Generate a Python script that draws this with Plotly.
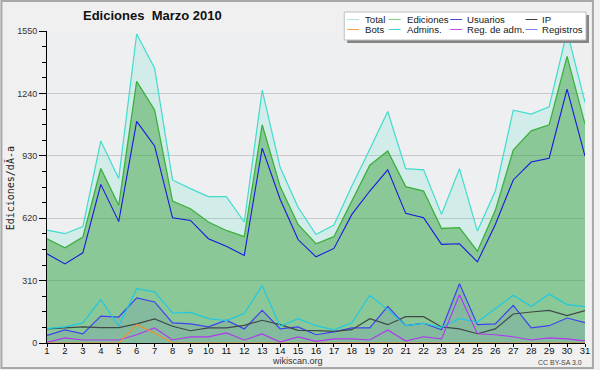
import plotly.graph_objects as go

days = list(range(1, 32))
total = [561, 543, 578, 1004, 817, 1535, 1365, 810, 767, 727, 727, 601, 1256, 873, 674, 539,
         586, 780, 963, 1150, 866, 860, 639, 866, 556, 755, 1157, 1137, 1173, 1548, 1195]
ediciones = [518, 473, 526, 867, 684, 1300, 1158, 705, 667, 601, 559, 528, 1084, 777, 589, 493,
             528, 705, 883, 954, 777, 755, 569, 573, 456, 659, 959, 1054, 1084, 1424, 1087]
usuarios = [443, 393, 448, 788, 603, 1101, 979, 622, 609, 518, 481, 435, 968, 714, 514, 428,
            470, 639, 755, 860, 644, 622, 490, 493, 403, 589, 810, 899, 918, 1261, 929]
ip = [70, 75, 80, 76, 76, 95, 120, 83, 61, 75, 75, 88, 113, 91, 63, 61,
      58, 66, 121, 91, 131, 131, 80, 70, 46, 70, 144, 154, 162, 136, 161]
bots = [0, 0, 0, 0, 0, 91, 50, 0, 0, 0, 0, 0, 0, 0, 0, 0,
        0, 0, 0, 0, 0, 0, 0, 0, 0, 0, 0, 0, 0, 0, 0]
admins = [71, 80, 100, 216, 83, 270, 254, 149, 152, 121, 111, 146, 285, 83, 121, 86,
          65, 100, 237, 166, 86, 98, 78, 121, 104, 171, 237, 181, 244, 191, 181]
reg_adm = [3, 25, 15, 15, 15, 41, 75, 15, 30, 30, 50, 15, 45, 5, 30, 8,
           20, 20, 15, 65, 10, 31, 20, 240, 46, 41, 31, 15, 25, 20, 11]
registros = [38, 65, 45, 134, 129, 224, 204, 100, 95, 80, 113, 70, 162, 70, 80, 41,
             55, 75, 75, 182, 86, 98, 66, 294, 91, 95, 187, 75, 86, 124, 101]

y_ticks = [0, 310, 620, 930, 1240, 1550]
legend_names = ["Total", "Ediciones", "Usuarios", "IP", "Bots", "Admins.", "Reg. de adm.", "Registros"]
legend_colors = ["#a8e6e0", "#80d080", "#4848d8", "#404040", "#f0a040", "#40d0e0", "#c050f0", "#8080f0"]

W, H = 600, 370
L, R, T, B = 47, 10, 31, 27
PW, PH = W - L - R, H - T - B


def px(x):
    return (x - L) / PW


def py(y):
    return (H - B - y) / PH


FONT = "Liberation Sans"
MONO = "DejaVu Sans Mono"
fig = go.Figure()

fig.add_trace(go.Scatter(x=days, y=total, mode="lines", fill="tozeroy",
                         line=dict(color="#40dccc", width=1.2),
                         fillcolor="rgba(64,224,190,0.16)", name="Total"))
fig.add_trace(go.Scatter(x=days, y=ediciones, mode="lines", fill="tozeroy",
                         line=dict(color="#3cb03c", width=1.3),
                         fillcolor="rgba(50,160,50,0.45)", name="Ediciones"))
fig.add_trace(go.Scatter(x=days, y=usuarios, mode="lines",
                         line=dict(color="#1818e0", width=1.1), name="Usuarios"))
fig.add_trace(go.Scatter(x=days, y=registros, mode="lines", fill="tozeroy",
                         line=dict(color="#4040f0", width=1.2),
                         fillcolor="rgba(90,90,220,0.12)", name="Registros"))
fig.add_trace(go.Scatter(x=days, y=ip, mode="lines",
                         line=dict(color="#404848", width=1.2), name="IP"))
fig.add_trace(go.Scatter(x=days, y=admins, mode="lines",
                         line=dict(color="#20c8e0", width=1.2), name="Admins."))
fig.add_trace(go.Scatter(x=days, y=reg_adm, mode="lines",
                         line=dict(color="#b038f0", width=1.2), name="Reg. de adm."))
fig.add_trace(go.Scatter(x=days, y=bots, mode="lines",
                         line=dict(color="#f09030", width=1.1), name="Bots"))

shapes = []
annotations = []

# outer frame
shapes.append(dict(type="rect", xref="paper", yref="paper",
                   x0=px(1), x1=px(598), y0=py(368), y1=py(1),
                   line=dict(color="#a8a8a8", width=2), layer="below"))

# custom legend box with shadow
shapes.append(dict(type="rect", xref="paper", yref="paper",
                   x0=px(350), x1=px(594), y0=py(43), y1=py(15),
                   line=dict(width=0), fillcolor="#858585", layer="above"))
shapes.append(dict(type="rect", xref="paper", yref="paper",
                   x0=px(347), x1=px(591), y0=py(40), y1=py(12),
                   line=dict(color="#c0c0c0", width=1), fillcolor="#ffffff", layer="above"))

col_line_x = [350, 392, 454, 530]
col_text_x = [366, 408, 469, 545]
row_y = [19.5, 29.5]
for i, (name, col) in enumerate(zip(legend_names, legend_colors)):
    c, r = i % 4, i // 4
    shapes.append(dict(type="line", xref="paper", yref="paper",
                       x0=px(col_line_x[c]), x1=px(col_line_x[c] + 12),
                       y0=py(row_y[r]), y1=py(row_y[r]),
                       line=dict(color=col, width=1), layer="above"))
    annotations.append(dict(text=name, xref="paper", yref="paper",
                            x=px(col_text_x[c]), y=py(row_y[r]),
                            xanchor="left", yanchor="middle", showarrow=False,
                            font=dict(family=FONT, size=9.6, color="#202020")))

annotations.append(dict(text="<b>Ediciones  Marzo 2010</b>", xref="paper", yref="paper",
                        x=px(153), y=py(16), xanchor="center", yanchor="middle",
                        showarrow=False, font=dict(family=FONT, size=13, color="#111111")))
annotations.append(dict(text="Ediciones/dÃ-a", xref="paper", yref="paper",
                        x=px(10), y=py(188), xanchor="center", yanchor="middle",
                        textangle=-90, showarrow=False,
                        font=dict(family=MONO, size=10, color="#222222")))
annotations.append(dict(text="wikiscan.org", xref="paper", yref="paper",
                        x=px(300), y=py(361), xanchor="center", yanchor="middle",
                        showarrow=False, font=dict(family=FONT, size=9, color="#333333")))
annotations.append(dict(text="CC BY-SA 3.0", xref="paper", yref="paper",
                        x=px(589), y=py(362), xanchor="right", yanchor="middle",
                        showarrow=False, font=dict(family=FONT, size=7, color="#444444")))

fig.update_layout(
    width=W, height=H,
    margin=dict(l=L, r=R, t=T, b=B, pad=0),
    paper_bgcolor="#f0f0f0",
    plot_bgcolor="#eeeff1",
    showlegend=False,
    shapes=shapes,
    annotations=annotations,
    xaxis=dict(range=[1, 31], tickvals=days, ticktext=[str(d) for d in days],
               showgrid=False, zeroline=False, showline=True, linecolor="black",
               linewidth=1, ticks="outside", ticklen=3, tickcolor="black",
               ticklabelstandoff=-4,
               tickfont=dict(family=FONT, size=9.5, color="#111111"),
               layer="above traces", fixedrange=True),
    yaxis=dict(range=[0, 1550], tickvals=y_ticks, ticktext=[str(v) for v in y_ticks],
               showgrid=True, gridcolor="#c8c8c8", gridwidth=1,
               zeroline=False, showline=True, linecolor="black", linewidth=1,
               ticks="outside", ticklen=7, tickcolor="black",
               tickfont=dict(family=FONT, size=9, color="#333333"),
               minor=dict(dtick=77.5, tick0=0, ticks="outside", ticklen=4,
                          tickcolor="black", showgrid=False),
               layer="above traces", fixedrange=True),
)

fig.write_html("out.html",
               config={"displayModeBar": False, "staticPlot": True},
               post_script="document.body.style.margin='0';document.body.style.padding='0';"
                           "document.body.style.background='#f0f0f0';")
